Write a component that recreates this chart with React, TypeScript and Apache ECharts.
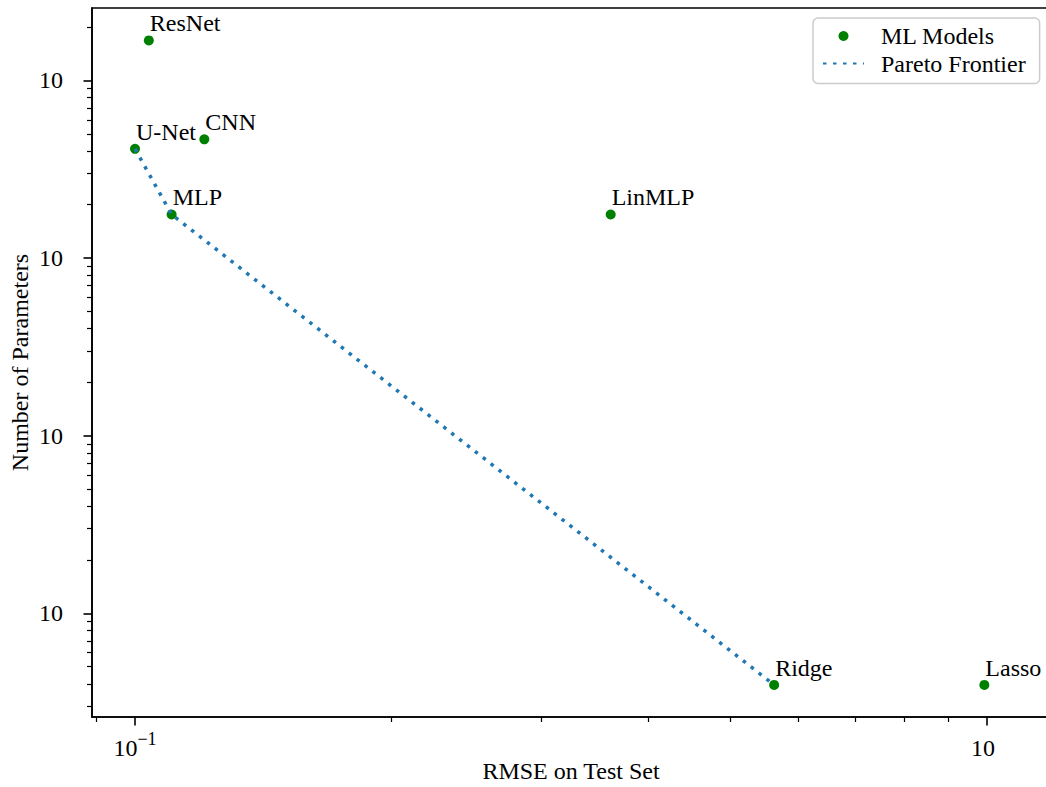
import React, { useEffect, useRef } from "react";
import * as echarts from "echarts";

// Models compared: test-set RMSE against parameter count (both log scale)
const models = ["ResNet", "U-Net", "CNN", "MLP", "LinMLP", "Ridge", "Lasso"];
const rmse = [0.1038, 0.1, 0.1206, 0.1104, 0.3617, 0.5626, 0.993];
const params = [1.68e6, 4.12e5, 4.66e5, 1.76e5, 1.76e5, 395, 395];

// Models lying on the Pareto frontier, in order of increasing RMSE
const paretoModels = ["U-Net", "MLP", "Ridge"];

// Axis extents, in decades (log10)
const xRange = [-1.0505, 0.074];
const yRange = [2.416, 6.408];

// Tick positions, in decades
const xMajorTicks = [-1, 0];
const yMajorTicks = [3, 4, 5, 6];
const minorMantissas = [2, 3, 4, 5, 6, 7, 8, 9];
const xDecades = [-2, -1, 0];
const yDecades = [2, 3, 4, 5, 6];

const FONT = "Liberation Serif";

function minorTicks(decades: number[], range: number[]): number[] {
  const out: number[] = [];
  decades.forEach((d) => {
    minorMantissas.forEach((m) => {
      const v = Math.log10(m) + d;
      if (v >= range[0] && v <= range[1]) out.push(v);
    });
  });
  return out;
}

export default function App() {
  const ref = useRef<HTMLDivElement>(null);

  useEffect(() => {
    if (!ref.current) return;
    const chart = echarts.init(ref.current, null, { renderer: "svg" });

    const points = models.map((m, i) => ({
      name: m,
      value: [Math.log10(rmse[i]), Math.log10(params[i])],
    }));
    const frontier = paretoModels.map((m) => {
      const i = models.indexOf(m);
      return [Math.log10(rmse[i]), Math.log10(params[i])];
    });

    const tickLine = { color: "#000", width: 1.6 };
    const minorLine = { color: "#000", width: 1.2 };

    const xLabelRich = {
      b: { fontFamily: FONT, fontSize: 24, lineHeight: 30, verticalAlign: "bottom", color: "#000" },
      r: { fontFamily: FONT, fontSize: 24, lineHeight: 30, verticalAlign: "bottom", color: "#000", padding: [0, 8, 0, 0] },
      s: { fontFamily: FONT, fontSize: 18, lineHeight: 18, verticalAlign: "top", color: "#000" },
    };

    chart.setOption({
      animation: false,
      textStyle: { fontFamily: FONT, color: "#000" },
      grid: {
        left: 92,
        right: -4,
        top: 8,
        bottom: 70,
        outerBoundsMode: "none",
        containLabel: false,
        show: true,
        borderColor: "#000",
        borderWidth: 1.6,
        backgroundColor: "transparent",
      },
      legend: {
        left: 813,
        top: 18,
        orient: "vertical",
        data: [
          { name: "ML Models" },
          { name: "Pareto Frontier", itemStyle: { opacity: 0 } },
        ],
        itemWidth: 41,
        itemHeight: 10,
        itemGap: 3.5,
        padding: [6, 14, 8, 9],
        borderColor: "#cccccc",
        borderWidth: 1.5,
        borderRadius: 5,
        backgroundColor: "rgba(255,255,255,0.8)",
        textStyle: {
          fontFamily: FONT,
          fontSize: 24,
          lineHeight: 24,
          color: "#000",
          padding: [0, 0, 0, 12],
        },
      },
      xAxis: [
        {
          type: "value",
          min: xRange[0],
          max: xRange[1],
          position: "bottom",
          name: "RMSE on Test Set",
          nameLocation: "middle",
          nameGap: 42,
          nameMoveOverlap: false,
          nameTextStyle: { fontFamily: FONT, fontSize: 24, lineHeight: 24, color: "#000" },
          axisLine: { show: true, onZero: false, lineStyle: tickLine },
          axisTick: { show: true, length: 8.5, lineStyle: tickLine, customValues: xMajorTicks },
          axisLabel: {
            show: true,
            margin: 12.5,
            customValues: xMajorTicks,
            formatter: (v: number) =>
              Math.round(v) < 0 ? `{b|10}{s|\u2212${Math.abs(Math.round(v))}}` : "{r|10}",
            rich: xLabelRich,
          },
          splitLine: { show: false },
        },
        {
          type: "value",
          min: xRange[0],
          max: xRange[1],
          position: "bottom",
          axisLine: { show: false, onZero: false },
          axisTick: { show: true, length: 5, lineStyle: minorLine, customValues: minorTicks(xDecades, xRange) },
          axisLabel: { show: false },
          splitLine: { show: false },
        },
      ],
      yAxis: [
        {
          type: "value",
          min: yRange[0],
          max: yRange[1],
          position: "left",
          name: "Number of Parameters",
          nameLocation: "middle",
          nameGap: 60,
          nameMoveOverlap: false,
          nameTextStyle: { fontFamily: FONT, fontSize: 24, lineHeight: 24, color: "#000" },
          axisLine: { show: true, onZero: false, lineStyle: tickLine },
          axisTick: { show: true, length: 8.5, lineStyle: tickLine, customValues: yMajorTicks },
          axisLabel: {
            show: true,
            margin: 29,
            customValues: yMajorTicks,
            formatter: () => "10",
            fontFamily: FONT,
            fontSize: 24,
            color: "#000",
          },
          splitLine: { show: false },
        },
        {
          type: "value",
          min: yRange[0],
          max: yRange[1],
          position: "left",
          axisLine: { show: false, onZero: false },
          axisTick: { show: true, length: 5, lineStyle: minorLine, customValues: minorTicks(yDecades, yRange) },
          axisLabel: { show: false },
          splitLine: { show: false },
        },
      ],
      series: [
        {
          name: "ML Models",
          type: "scatter",
          xAxisIndex: 0,
          yAxisIndex: 0,
          symbol: "circle",
          symbolSize: 10,
          itemStyle: { color: "#008000", opacity: 1 },
          data: points,
          z: 2,
          label: {
            show: true,
            formatter: (p: any) => p.name,
            position: [6, 0],
            align: "left",
            verticalAlign: "bottom",
            fontFamily: FONT,
            fontSize: 24,
            lineHeight: 24,
            color: "#000",
          },
        },
        {
          name: "Pareto Frontier",
          type: "line",
          xAxisIndex: 0,
          yAxisIndex: 0,
          symbol: "none",
          data: frontier,
          z: 3,
          lineStyle: { color: "#1f77b4", width: 3.5, type: [3.5, 6.5], cap: "butt" },
          itemStyle: { color: "#1f77b4" },
        },
      ],
    });

    return () => chart.dispose();
  }, []);

  return (
    <div
      ref={ref}
      style={{ position: "fixed", left: 0, top: 0, width: 1046, height: 787, background: "#fff" }}
    />
  );
}
